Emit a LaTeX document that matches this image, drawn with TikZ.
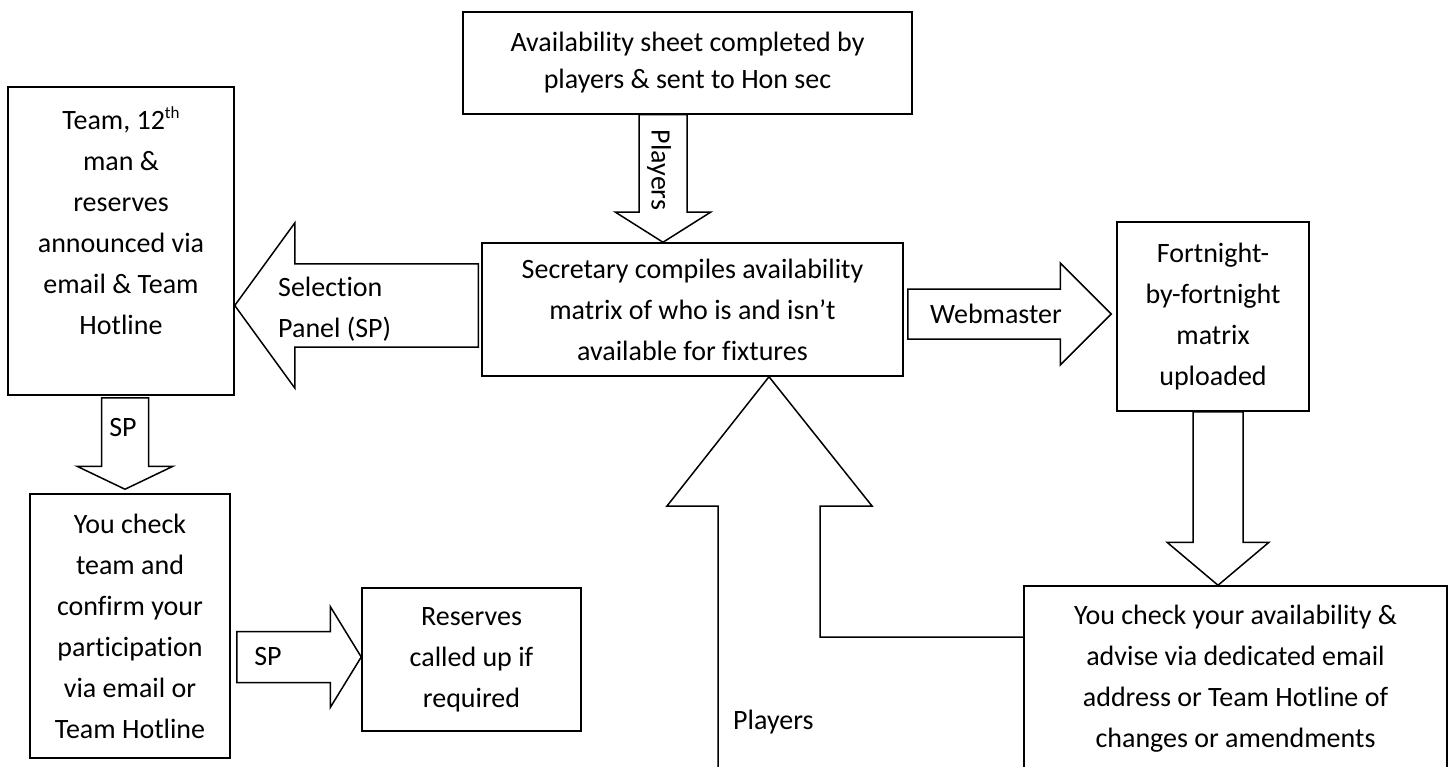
\documentclass[tikz,border=0pt]{standalone}
\usepackage{fontspec}
\setmainfont{Carlito}[Ligatures=NoCommon]
\usetikzlibrary{calc,positioning}

\tikzset{
  box/.style={draw, line width=1.5pt, align=center, inner sep=0pt, font=\fontsize{28}{41}\selectfont},
  blockarrow/.style={draw, line width=1.5pt, line join=miter},
  lbl/.style={font=\fontsize{28}{41}\selectfont, inner sep=0pt},
}

% block arrow: start, tip, half shaft, half head, head length
\newcommand{\blockarrow}[5]{%
  \coordinate (ba-h) at ($(#2)!#5!(#1)$);
  \draw[blockarrow] ($(#1)!#3!90:(#2)$) -- ($(ba-h)!#3!90:(#2)$) -- ($(ba-h)!#4!90:(#2)$)
    -- (#2) -- ($(ba-h)!#4!-90:(#2)$) -- ($(ba-h)!#3!-90:(#2)$) -- ($(#1)!#3!-90:(#2)$) -- cycle;
}
\newcommand{\supth}{\raisebox{11pt}{\fontsize{17}{17}\selectfont th}}

\begin{document}
\begin{tikzpicture}[x=1pt, y=-1pt]
    \useasboundingbox (0,0) rectangle (1453,767);

    % Boxes
    \node[box, minimum width=449pt, minimum height=102pt, font=\fontsize{28}{37}\selectfont] (sheet) at (687.5,63)
        {Availability sheet completed by\\players \& sent to Hon sec};
    \node[box, minimum width=421pt, minimum height=133pt] (sec) at (692.5,309.5)
        {Secretary compiles availability\\matrix of who is and isn’t\\available for fixtures};
    \node[box, minimum width=226pt, minimum height=308pt] (team) at (121,241)
        {Team, 12\supth\\man \&\\reserves\\announced via\\email \& Team\\Hotline\\~};
    \node[box, minimum width=192pt, minimum height=189pt] (fort) at (1213,316.5)
        {Fortnight-\\by-fortnight\\matrix\\uploaded};
    \node[box, minimum width=200pt, minimum height=264pt] (check) at (130,626)
        {You check\\team and\\confirm your\\participation\\via email or\\Team Hotline};
    \node[box, minimum width=219pt, minimum height=143pt] (res) at (471.5,659.5)
        {Reserves\\called up if\\required};
    \node[box, minimum width=423pt, minimum height=185pt] (avail) at (1235.5,678.5)
        {You check your availability \&\\advise via dedicated email\\address or Team Hotline of\\changes or amendments};

    % Arrows
    \coordinate (pl-a) at (663,0|-sheet.south);
    \coordinate (pl-b) at (663,0|-sec.north);
    \blockarrow{pl-a}{pl-b}{24pt}{47.5pt}{30pt}

    \coordinate (sel-a) at ($(sec.west|-0,305.5)+(-3,0)$);
    \coordinate (sel-b) at (team.east|-sel-a);
    \blockarrow{sel-a}{sel-b}{41.5pt}{82.5pt}{60pt}

    \coordinate (web-a) at ($(sec.east|-0,314)+(4,0)$);
    \coordinate (web-b) at ($(fort.west|-web-a)+(-5,0)$);
    \blockarrow{web-a}{web-b}{25pt}{51pt}{51pt}

    \coordinate (up-a) at (1218,0|-fort.south);
    \coordinate (up-b) at (1218,0|-avail.north);
    \blockarrow{up-a}{up-b}{25pt}{51pt}{43pt}

    \coordinate (spd-a) at ($(125,0|-team.south)+(0,2)$);
    \coordinate (spd-b) at ($(125,0|-check.north)+(0,-4)$);
    \blockarrow{spd-a}{spd-b}{23.5pt}{48pt}{23pt}

    \coordinate (spr-a) at ($(check.east|-0,657)+(6,0)$);
    \coordinate (spr-b) at (res.west|-spr-a);
    \blockarrow{spr-a}{spr-b}{25.5pt}{50.5pt}{31pt}

    % Players arrow back up to the secretary
    \coordinate (back-tip) at (769,0|-sec.south);
    \coordinate (back-end) at (avail.west|-0,637);
    \draw[blockarrow] (718,775) -- (718,506) -- (667,506) -- (back-tip) -- (872,506)
        -- (820,506) -- (820,637) -- (back-end);

    % Labels
    \node[lbl, rotate=-90] (pl-lbl) at (659,170) {Players};
    \node[lbl, align=left, anchor=west] (sel-lbl) at (278,309) {Selection\\Panel (SP)};
    \node[lbl] (web-lbl) at (996,314) {Webmaster};
    \node[lbl] (spd-lbl) at (123,428) {SP};
    \node[lbl] (spr-lbl) at (268,657) {SP};
    \node[lbl, anchor=west] (back-lbl) at (733,722) {Players};
\end{tikzpicture}
\end{document}
